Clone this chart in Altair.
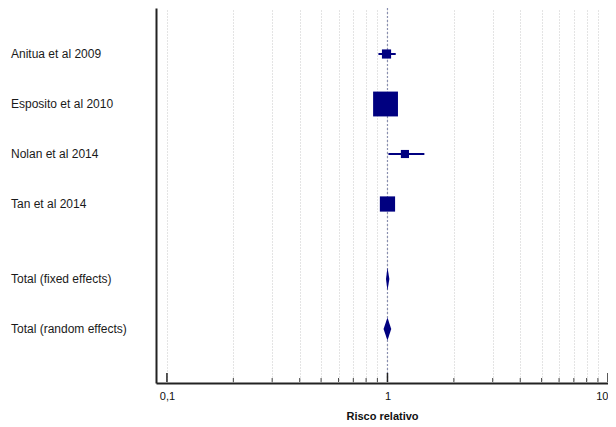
import altair as alt
import pandas as pd

# ---- data ----
studies = ["Anitua et al 2009", "Esposito et al 2010", "Nolan et al 2014", "Tan et al 2014"]
study_rr = [0.99, 0.98, 1.20, 1.00]
study_lo = [0.91, 0.90, 1.01, 0.94]
study_hi = [1.09, 1.07, 1.47, 1.06]
study_weight = [8.4, 61.8, 6.6, 23.2]

totals = ["Total (fixed effects)", "Total (random effects)"]
total_rr = [1.00, 1.00]
total_lo = [0.985, 0.96]
total_hi = [1.02, 1.04]

grid_values = [0.1, 0.2, 0.3, 0.4, 0.5, 0.6, 0.7, 0.8, 0.9, 1,
               2, 3, 4, 5, 6, 7, 8, 9, 10]
major_ticks = [0.1, 1, 10]
major_labels = ["0,1", "1", "10"]
ref_value = [1]

NAVY = "#000080"
FONT = "Liberation Sans"

# ---- tables ----
n = len(studies)
study_rows = [i + 1 for i in range(n)]
total_rows = [n + 1.5 + j for j in range(len(totals))]

df_s = pd.DataFrame({"label": studies, "rr": study_rr, "lo": study_lo,
                     "hi": study_hi, "weight": study_weight, "row": study_rows})
half = 0.23
dia = []
for lab, r, lo, hi, row in zip(totals, total_rr, total_lo, total_hi, total_rows):
    dia.append({"label": lab, "x": lo, "y": row, "y2": row})
    dia.append({"label": lab, "x": r, "y": row - half, "y2": row + half})
    dia.append({"label": lab, "x": hi, "y": row, "y2": row})
df_d = pd.DataFrame(dia)
df_labels = pd.DataFrame({"label": studies + totals, "row": study_rows + total_rows})
df_major = pd.DataFrame({"v": major_ticks})
df_minor = pd.DataFrame({"v": [v for v in grid_values if v not in major_ticks]})
df_ref = pd.DataFrame({"v": ref_value})

label_expr = " : ".join(
    f"abs(datum.value - {v}) < 1e-9 ? '{l}'" for v, l in zip(major_ticks, major_labels)
) + " : ''"

xscale = alt.Scale(type="log", domain=[0.0892, 10.0], nice=False)
yscale = alt.Scale(domain=[0.08, 7.58], reverse=True, nice=False, zero=False)

xaxis = alt.Axis(values=grid_values, grid=True, gridDash=[1, 2], gridColor="#c8c8c8",
                 gridWidth=1, ticks=False, domainColor="#222222", domainWidth=2,
                 labelExpr=label_expr, labelFont=FONT, labelFontSize=11,
                 labelColor="#111111", labelPadding=7, labelOverlap=False,
                 labelFlush=3, titleFont=FONT, titleFontSize=11,
                 titleFontWeight="bold", titleColor="#111111", titlePadding=9)
yaxis = alt.Axis(grid=False, ticks=False, labels=False, domainColor="#222222",
                 domainWidth=2, title=None)

TITLE = "Risco relativo"


def X(field):
    return alt.X(field, type="quantitative", scale=xscale, axis=xaxis, title=TITLE)


def Y(field):
    return alt.Y(field, type="quantitative", scale=yscale, axis=yaxis, title=None, stack=None)


ref = alt.Chart(df_ref).mark_rule(color="#8a90b0", strokeDash=[2, 2], strokeWidth=1.2).encode(
    x=X("v"))

ci = alt.Chart(df_s).mark_rule(color=NAVY, strokeWidth=2).encode(
    x=X("lo"), x2="hi", y=Y("row"))

squares = alt.Chart(df_s).mark_square(color=NAVY, opacity=1).encode(
    x=X("rr"), y=Y("row"),
    size=alt.Size("weight:Q", scale=alt.Scale(domain=[0, 100], range=[0, 1000]), legend=None))

diamonds = alt.Chart(df_d).mark_area(color=NAVY, opacity=1, orient="vertical").encode(
    x=X("x"), y=Y("y"), y2="y2", detail="label:N")

labels = alt.Chart(df_labels).mark_text(align="left", baseline="middle", font=FONT,
                                        fontSize=12, color="#1a1a1a").encode(
    x=alt.value(-145), y=Y("row"), text="label:N")

major = alt.Chart(df_major).mark_rule(color="#222222", strokeWidth=1.5).encode(
    x=X("v"), y=alt.value(374), y2=alt.value(365))
minor = alt.Chart(df_minor).mark_rule(color="#444444", strokeWidth=1).encode(
    x=X("v"), y=alt.value(374), y2=alt.value(370))

chart = alt.layer(ref, ci, squares, diamonds, labels, major, minor).properties(
    width=452, height=375,
    autosize=alt.AutoSizeParams(type="none"),
    padding={"left": 148, "top": 0, "right": 0, "bottom": 44},
    background="white",
).configure_view(stroke=None)

chart.save("out.html", embed_options={"renderer": "svg", "actions": False})
